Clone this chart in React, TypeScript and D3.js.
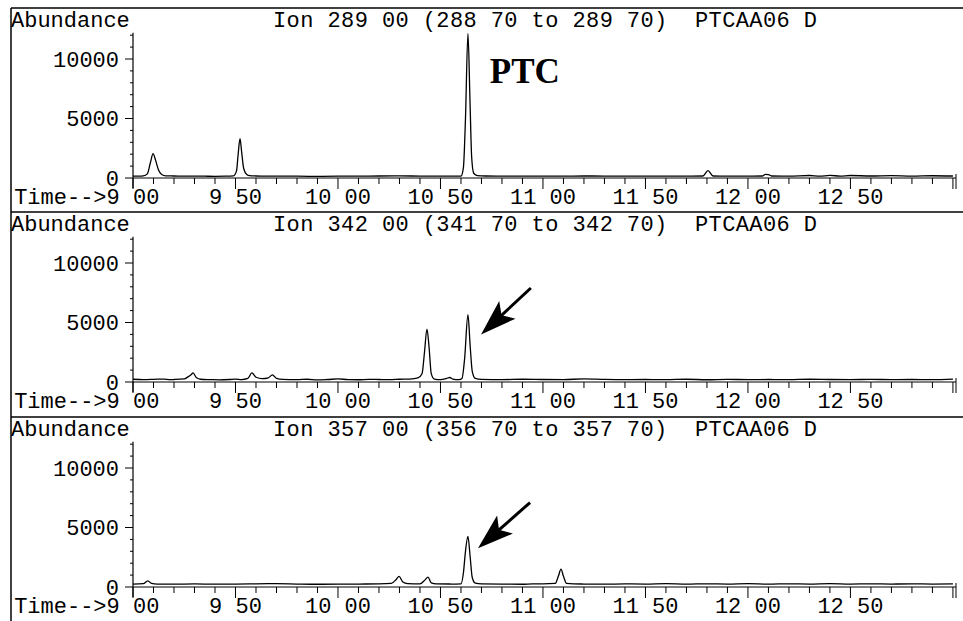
import * as d3 from 'd3';

// ion chromatograms, [time (min), abundance]
const ionLabels = [
  'Ion 289 00 (288 70 to 289 70)  PTCAA06 D',
  'Ion 342 00 (341 70 to 342 70)  PTCAA06 D',
  'Ion 357 00 (356 70 to 357 70)  PTCAA06 D',
];

const xMajorTicks = [9.0, 9.5, 10.0, 10.5, 11.0, 11.5, 12.0, 12.5];
const xTickLabels = ['Time-->9 00', '9 50', '10 00', '10 50', '11 00', '11 50', '12 00', '12 50'];
const yTicks = [0, 5000, 10000];
const yTickLabels = ['0', '5000', '10000'];

const trace289: [number, number][] = [
  [9.0, 160], [9.03, 150], [9.05, 170], [9.07, 350], [9.085, 1300], [9.098, 2050], [9.11, 1500],
  [9.125, 650], [9.14, 300], [9.16, 180], [9.2, 170], [9.25, 150], [9.3, 160], [9.35, 150],
  [9.4, 140], [9.45, 150], [9.49, 180], [9.505, 600], [9.513, 2000], [9.522, 3300], [9.53, 2200],
  [9.54, 800], [9.555, 300], [9.57, 200], [9.6, 170], [9.65, 150], [9.7, 160], [9.8, 150],
  [9.9, 140], [10.0, 150], [10.1, 160], [10.2, 170], [10.3, 180], [10.4, 160], [10.5, 150],
  [10.6, 160], [10.612, 900], [10.622, 5000], [10.634, 12150], [10.644, 6500], [10.652, 1800],
  [10.662, 400], [10.68, 200], [10.72, 170], [10.8, 160], [10.9, 150], [11.0, 160], [11.1, 150],
  [11.2, 170], [11.3, 160], [11.4, 150], [11.5, 160], [11.6, 150], [11.7, 160], [11.78, 170],
  [11.805, 620], [11.83, 170], [11.9, 150], [12.0, 160], [12.07, 170], [12.085, 300], [12.1, 290],
  [12.115, 170], [12.2, 160], [12.3, 210], [12.35, 150], [12.4, 220], [12.45, 160], [12.5, 210],
  [12.6, 170], [12.7, 200], [12.8, 160], [12.9, 190], [13.0, 170],
];

const trace342: [number, number][] = [
  [9.0, 230], [9.05, 200], [9.1, 220], [9.15, 250], [9.18, 200], [9.2, 210], [9.25, 260],
  [9.27, 450], [9.283, 600], [9.293, 760], [9.31, 350], [9.33, 230], [9.38, 200], [9.42, 180],
  [9.47, 210], [9.5, 250], [9.53, 200], [9.56, 300], [9.58, 760], [9.6, 400], [9.63, 280],
  [9.66, 350], [9.68, 600], [9.7, 300], [9.73, 220], [9.8, 200], [9.85, 230], [9.9, 180],
  [9.95, 210], [10.0, 260], [10.05, 200], [10.1, 190], [10.15, 220], [10.2, 210], [10.25, 200],
  [10.3, 230], [10.35, 250], [10.39, 350], [10.41, 700], [10.422, 2500], [10.434, 4450],
  [10.444, 3000], [10.455, 700], [10.47, 250], [10.5, 200], [10.53, 300], [10.545, 380],
  [10.56, 250], [10.59, 200], [10.605, 300], [10.618, 2000], [10.634, 5650], [10.645, 3000],
  [10.655, 900], [10.67, 300], [10.7, 220], [10.8, 200], [10.9, 230], [11.0, 210], [11.1, 200],
  [11.2, 260], [11.3, 220], [11.4, 200], [11.5, 210], [11.6, 200], [11.7, 230], [11.8, 190],
  [11.9, 220], [12.0, 200], [12.1, 210], [12.2, 200], [12.3, 230], [12.4, 210], [12.5, 200],
  [12.6, 220], [12.7, 200], [12.8, 210], [12.9, 200], [13.0, 250],
];

const trace357: [number, number][] = [
  [9.0, 250], [9.05, 280], [9.073, 520], [9.09, 300], [9.12, 250], [9.2, 240], [9.3, 260],
  [9.4, 240], [9.5, 250], [9.6, 270], [9.7, 280], [9.8, 250], [9.9, 230], [10.0, 240],
  [10.1, 250], [10.2, 260], [10.26, 300], [10.285, 650], [10.298, 900], [10.315, 450],
  [10.34, 280], [10.4, 260], [10.425, 600], [10.439, 830], [10.455, 350], [10.48, 260],
  [10.55, 250], [10.6, 270], [10.612, 1200], [10.622, 3000], [10.634, 4250], [10.645, 2500],
  [10.655, 800], [10.67, 320], [10.7, 260], [10.8, 250], [10.9, 230], [10.95, 270], [11.0, 260],
  [11.06, 300], [11.075, 900], [11.088, 1500], [11.1, 900], [11.115, 300], [11.15, 260],
  [11.2, 250], [11.3, 240], [11.4, 260], [11.5, 250], [11.6, 280], [11.7, 240], [11.8, 270],
  [11.9, 250], [12.0, 280], [12.1, 240], [12.2, 270], [12.3, 250], [12.4, 280], [12.5, 250],
  [12.6, 270], [12.7, 250], [12.8, 260], [12.9, 250], [13.0, 260],
];

const traces = [trace289, trace342, trace357];

// annotations in data units: [time, abundance]
const ptcLabel: [number, number] = [10.741, 8000];
const arrowTips: ([number, number] | null)[] = [null, [10.698, 4000], [10.683, 3250]];
const arrowTails: ([number, number] | null)[] = [null, [10.941, 7900], [10.937, 7100]];

const W = 963;
const H = 621;
const panelTops = [8, 212, 417];
const mono = "'Courier New', 'Liberation Mono', monospace";
const charW = 13.2;

const x = d3.scaleLinear().domain([9.0, 13.015]).range([133, 956]);
const minorTicks = d3.range(90, 131).map(v => v / 10);

function Panel({ idx }: { idx: number }) {
  const top = panelTops[idx];
  const y = d3.scaleLinear().domain([0, 10000]).range([top + 170, top + 51]);
  const line = d3.line<[number, number]>()
    .x(d => x(d[0]))
    .y(d => y(d[1]))
    .curve(d3.curveMonotoneX);
  const y0 = y(0);
  const yMinor = d3.range(0, 12001, 1000);

  let arrow = null;
  const tip = arrowTips[idx];
  const tail = arrowTails[idx];
  if (tip && tail) {
    const tx = x(tip[0]), ty = y(tip[1]);
    const sx = x(tail[0]), sy = y(tail[1]);
    const ang = Math.atan2(sy - ty, sx - tx);
    const ux = Math.cos(ang), uy = Math.sin(ang);
    const px = -uy, py = ux;
    const L = 36, hw = 12, notch = 28;
    const pts = [
      [tx, ty],
      [tx + ux * L + px * hw, ty + uy * L + py * hw],
      [tx + ux * notch, ty + uy * notch],
      [tx + ux * L - px * hw, ty + uy * L - py * hw],
    ];
    arrow = (
      <g>
        <line x1={tx + ux * 25} y1={ty + uy * 25} x2={sx} y2={sy} stroke="#000" strokeWidth={3} />
        <polygon points={pts.map(p => p.join(',')).join(' ')} fill="#000" />
      </g>
    );
  }

  return (
    <g>
      <line x1={11} x2={W} y1={top} y2={top} stroke="#000" strokeWidth={1.5} />
      <text x={11} y={top + 19} fontFamily={mono} fontSize={22}>Abundance</text>
      <text x={273} y={top + 19} fontFamily={mono} fontSize={22} textLength={544} lengthAdjust="spacing"
        style={{ whiteSpace: 'pre' }}>{ionLabels[idx]}</text>

      {/* y axis */}
      <line x1={133} x2={133} y1={y(12200)} y2={y0 + 10} stroke="#000" strokeWidth={1.2} />
      {yMinor.map(v => (
        <line key={'ym' + v} x1={v % 5000 === 0 ? 125 : 130} x2={133} y1={y(v)} y2={y(v)}
          stroke="#000" strokeWidth={1} />
      ))}
      {yTicks.map((v, i) => (
        <text key={'yt' + v} x={119} y={y(v)} dy="0.35em" textAnchor="end" fontFamily={mono} fontSize={22}>
          {yTickLabels[i]}
        </text>
      ))}

      {/* x axis */}
      <line x1={133} x2={956} y1={y0} y2={y0} stroke="#000" strokeWidth={1} />
      {minorTicks.map(t => {
        const major = Math.abs(t * 2 - Math.round(t * 2)) < 1e-6;
        return (
          <line key={'xm' + t} x1={x(t)} x2={x(t)} y1={y0} y2={y0 + (major ? 11 : 6)}
            stroke="#000" strokeWidth={1} />
        );
      })}
      <line x1={956} x2={956} y1={y0 - 4} y2={y0 + 11} stroke="#000" strokeWidth={1} />
      {xMajorTicks.map((t, i) => (
        i === 0 ? (
          <text key={'xt' + t} x={x(t) + charW * 2} y={top + 196} textAnchor="end" fontFamily={mono}
            fontSize={22} style={{ whiteSpace: 'pre' }}>{xTickLabels[i]}</text>
        ) : (
          <text key={'xt' + t} x={x(t)} y={top + 196} textAnchor="middle" fontFamily={mono} fontSize={22}
            style={{ whiteSpace: 'pre' }}>{xTickLabels[i]}</text>
        )
      ))}

      <path d={line(traces[idx]) || ''} fill="none" stroke="#000" strokeWidth={1.3} />

      {idx === 0 && (
        <text x={x(ptcLabel[0])} y={y(ptcLabel[1])} fontFamily="'Times New Roman', 'Liberation Serif', serif"
          fontWeight="bold" fontSize={35}>PTC</text>
      )}
      {arrow}
    </g>
  );
}

export default function App() {
  return (
    <svg width={W} height={H} viewBox={`0 0 ${W} ${H}`}
      style={{ position: 'absolute', left: 0, top: 0, background: '#fff' }}>
      <rect width={W} height={H} fill="#fff" />
      <line x1={11} x2={11} y1={8} y2={H} stroke="#000" strokeWidth={1.5} />
      {[0, 1, 2].map(i => <Panel key={i} idx={i} />)}
    </svg>
  );
}
